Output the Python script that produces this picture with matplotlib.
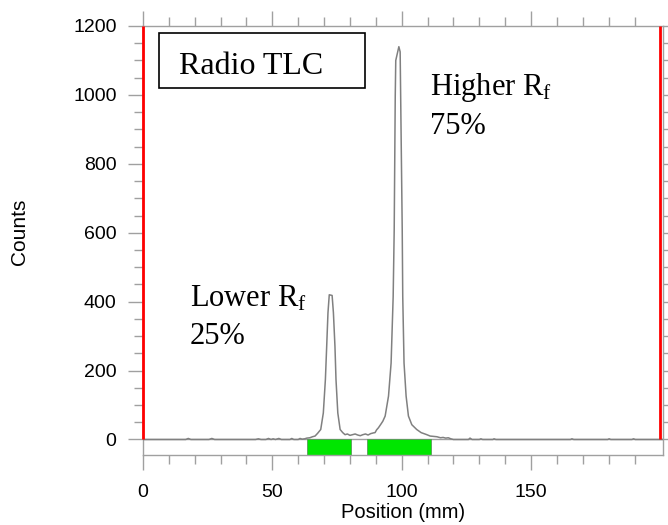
import numpy as np
import matplotlib
matplotlib.use("Agg")
import matplotlib.pyplot as plt
from matplotlib.ticker import MultipleLocator, FixedLocator
from matplotlib.patches import Rectangle

plt.rcParams["font.family"] = ["Liberation Sans", "DejaVu Sans"]
plt.rcParams["mathtext.fontset"] = "custom"
plt.rcParams["mathtext.rm"] = "Liberation Serif"
plt.rcParams["mathtext.it"] = "Liberation Serif:italic"

# radio-TLC trace
position = [0, 16.5, 17.5, 18.5, 25.5, 26.6, 27.7, 43.5, 44.6, 45.6, 47.5, 48.5,
            49.5, 50.3, 51.2, 52.5, 53.5, 56.8, 57.5, 58.3, 60.0, 60.7, 61.5, 62.5,
            63.3, 64.5, 65.5, 66.5, 67.5, 68.7, 69.7, 70.5, 71.0, 71.5, 72.0, 73.1,
            73.6, 74.2, 74.6, 75.3, 76.2, 77.2, 78.1, 79, 80, 81, 82, 83, 84, 85,
            86, 87, 88, 89, 89.7, 90.3, 91, 92, 92.7, 93.6, 94.9, 95.9, 96.7, 97.1,
            97.3, 97.5, 97.7, 98.9, 99.4, 99.6, 99.9, 100.2, 100.4, 100.9, 101.7,
            102.6, 103.9, 105.8, 107.5, 109.7, 111, 113.6, 115, 116, 117, 118, 119,
            120, 125.8, 126.4, 127.2, 130, 130.6, 131.3, 135.2, 135.7, 136.4, 165.2,
            165.8, 166.5, 179.6, 180.2, 180.8, 189, 189.6, 190.3, 201]
counts = [0, 0, 3, 0, 0, 3, 0, 0, 2, 0, 0, 3,
          0, 2, 0, 3, 0, 0, 3, 0, 0, 3, 1, 2,
          4, 5, 8, 10, 18, 29, 77, 174, 270, 368, 420, 418,
          368, 270, 174, 77, 29, 20, 14, 16, 12, 14, 16, 13, 11, 14,
          16, 13, 17, 19, 20, 28, 34, 45, 53, 68, 126, 222, 415, 609,
          802, 995, 1100, 1140, 1125, 995, 802, 609, 415, 222, 126,
          68, 43, 29, 20, 14, 10, 8, 5, 6, 4, 5, 2,
          0, 0, 4, 0, 0, 2, 0, 0, 2, 0, 0,
          2, 0, 0, 2, 0, 0, 2, 0, 0]

# integration regions (green) and plate limits (red)
roi_start = [63.5, 86.5]
roi_end = [80.4, 111.4]
plate_limits = [0, 200]

x_major = [0, 50, 100, 150]
x_minor = list(range(0, 200, 10))

YMIN = -45

fig = plt.figure(figsize=(6.68, 5.25), dpi=100)
ax = fig.add_axes([143 / 668, 1 - 455 / 525, 520 / 668, 429 / 525])

ax.set_xlim(0, 201)
ax.set_ylim(YMIN, 1200)

ax.axhline(0, color="#a0a0a0", lw=1, zorder=1)
ax.plot(position, counts, color="#808080", lw=1.1, zorder=3)

widths = np.array(roi_end) - np.array(roi_start)
ax.bar(roi_start, -YMIN, width=widths, bottom=YMIN, align="edge",
       color="#00e600", edgecolor="#5a9a5a", lw=0.6, zorder=2)

ax.vlines(plate_limits, 0, 1200, colors="#ff0000", lw=2, zorder=4, clip_on=False)

# axes look
grey = "#a0a0a0"
for s in ax.spines.values():
    s.set_color(grey)
    s.set_linewidth(1)

ax.xaxis.set_major_locator(FixedLocator(x_major))
ax.xaxis.set_minor_locator(FixedLocator(x_minor))
ax.yaxis.set_major_locator(MultipleLocator(200))
ax.yaxis.set_minor_locator(MultipleLocator(50))

ax.tick_params(which="both", direction="out", colors=grey, top=True, right=True,
               labelcolor="black", labelsize=14)
ax.tick_params(which="major", length=10.5, width=1)
ax.tick_params(which="minor", length=6.7, width=1)
ax.tick_params(axis="y", which="major", pad=8.5)
ax.tick_params(axis="x", which="major", pad=10.5)

ax.set_xlabel("Position (mm)", fontsize=14.5, va="baseline")
ax.xaxis.set_label_coords(0.5, (455 - 518) / 429)
ax.set_ylabel("Counts", fontsize=15, va="center")
ax.yaxis.set_label_coords((20 - 143) / 520, (455 - 232) / 429)

# annotations
serif = ["Liberation Serif", "DejaVu Serif"]
ax.add_patch(Rectangle((16 / 520, (455 - 88) / 429), 206 / 520, 55 / 429,
                       transform=ax.transAxes, fill=False, ec="black", lw=1.2,
                       zorder=5))
ax.text(36 / 520, (455 - 74) / 429, "Radio TLC", transform=ax.transAxes,
        fontsize=23, family=serif, va="baseline", zorder=6)

ax.text(287 / 520, (455 - 95) / 429, r"Higher R$_\mathrm{f}$", transform=ax.transAxes,
        fontsize=22, family=serif, va="baseline")
ax.text(287 / 520, (455 - 134) / 429, "75%", transform=ax.transAxes,
        fontsize=22, family=serif, va="baseline")
ax.text(47 / 520, (455 - 306.7) / 429, r"Lower R$_\mathrm{f}$", transform=ax.transAxes,
        fontsize=22, family=serif, va="baseline")
ax.text(47 / 520, (455 - 344) / 429, "25%", transform=ax.transAxes,
        fontsize=22, family=serif, va="baseline")

fig.savefig("out.png", dpi=100)
